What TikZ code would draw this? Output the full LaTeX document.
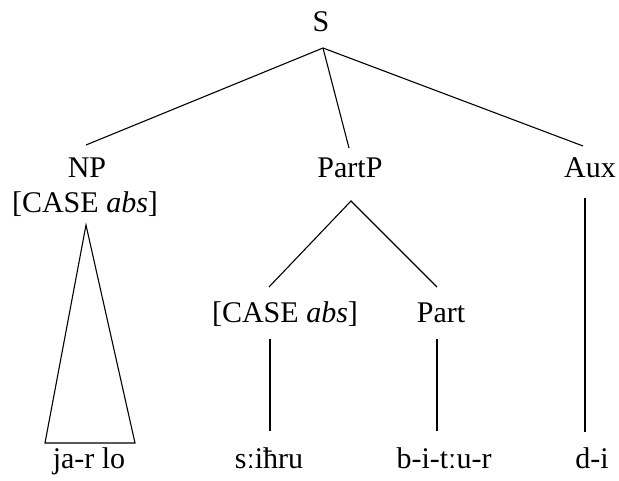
\documentclass[tikz,border=0pt]{standalone}
\usepackage{fontspec}
\setmainfont{Liberation Serif}
\begin{document}
\begin{tikzpicture}[x=1pt,y=-1pt,
  lbl/.style={anchor=base,inner sep=0pt,font=\fontsize{30}{32}\selectfont},
  branch/.style={line width=1.1pt}]
\useasboundingbox (0,0) rectangle (619,481);
% labels
\node[lbl] (S) at (321,32) {S};
\node[lbl] (NP) at (87,178) {NP};
\node[lbl] (NPcase) at (85,213) {[CASE \textit{abs}]};
\node[lbl] (PartP) at (350,178) {PartP};
\node[lbl] (Aux) at (590,178) {Aux};
\node[lbl] (Case2) at (285,323) {[CASE \textit{abs}]};
\node[lbl] (Part) at (441,323) {Part};
\node[lbl] (w1) at (89,468) {ja-r lo};
\node[lbl] (w2) at (269,468) {sːiħru};
\node[lbl] (w3) at (444,468) {b-i-tːu-r};
\node[lbl] (w4) at (592,468) {d-i};
% branch ends
\coordinate (Sfoot) at (323,48);
\coordinate (NPtop) at (86,145);
\coordinate (PartPtop) at (349,148);
\coordinate (Auxtop) at (583,146);
\coordinate (PartPfoot) at (351,201);
\coordinate (Casetop) at (269,287);
\coordinate (Parttop) at (437,287);
\coordinate (Casefoot) at (270,339);
\coordinate (Partfoot) at (437,339);
\coordinate (w2top) at (270,431);
\coordinate (w3top) at (437,431);
\coordinate (Auxfoot) at (585,198);
\coordinate (w4top) at (585,432);
\coordinate (TriApex) at (86,225);
\coordinate (TriL) at (45,443);
\coordinate (TriR) at (135,443);
% branches
\draw[branch] (Sfoot) -- (NPtop);
\draw[branch] (Sfoot) -- (PartPtop);
\draw[branch] (Sfoot) -- (Auxtop);
\draw[branch] (Casetop) -- (PartPfoot) -- (Parttop);
\draw[branch] (Casefoot) -- (w2top);
\draw[branch] (Partfoot) -- (w3top);
\draw[branch] (Auxfoot) -- (w4top);
\draw[branch,line join=miter] (TriApex) -- (TriL) -- (TriR) -- cycle;
\end{tikzpicture}
\end{document}
